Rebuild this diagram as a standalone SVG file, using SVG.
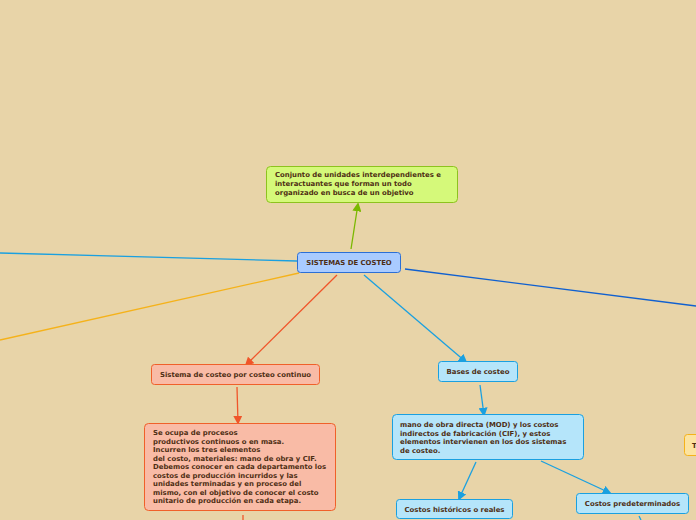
<svg xmlns="http://www.w3.org/2000/svg" width="696" height="520" viewBox="0 0 696 520">
<defs>
<style>
.t{font-family:"DejaVu Sans",Verdana,sans-serif;font-weight:bold;font-size:6.9px;fill:#4E2E14}
.c{text-anchor:middle}
.n{stroke-width:1}
.l{fill:none;stroke-width:1.3}
</style>
<marker id="ag" viewBox="0 0 10 10" refX="8" refY="5" markerWidth="7" markerHeight="7" orient="auto"><path d="M0,0L10,5L0,10z" fill="#7AB800"/></marker>
<marker id="ar" viewBox="0 0 10 10" refX="8" refY="5" markerWidth="7" markerHeight="7" orient="auto"><path d="M0,0L10,5L0,10z" fill="#F0552A"/></marker>
<marker id="ac" viewBox="0 0 10 10" refX="8" refY="5" markerWidth="7" markerHeight="7" orient="auto"><path d="M0,0L10,5L0,10z" fill="#1AA0E0"/></marker>
</defs>
<rect width="696" height="520" fill="#E8D4A8"/>
<g id="connectors">
<line class="l" x1="351" y1="249" x2="358" y2="204" stroke="#7AB800" marker-end="url(#ag)"/>
<line class="l" x1="297" y1="261" x2="0" y2="253" stroke="#1AA0E0"/>
<line class="l" x1="299" y1="273" x2="0" y2="340" stroke="#F5B21A"/>
<line class="l" x1="405" y1="269" x2="696" y2="306" stroke="#1060D0"/>
<line class="l" x1="337" y1="275" x2="246" y2="365" stroke="#F0552A" marker-end="url(#ar)"/>
<line class="l" x1="364" y1="275" x2="466" y2="362" stroke="#1AA0E0" marker-end="url(#ac)"/>
<line class="l" x1="480" y1="385" x2="484" y2="415" stroke="#1AA0E0" marker-end="url(#ac)"/>
<line class="l" x1="237" y1="387" x2="238" y2="423" stroke="#F0552A" marker-end="url(#ar)"/>
<line class="l" x1="476" y1="462" x2="459" y2="499" stroke="#1AA0E0" marker-end="url(#ac)"/>
<line class="l" x1="541" y1="461" x2="610" y2="493" stroke="#1AA0E0" marker-end="url(#ac)"/>
<line class="l" x1="243" y1="515" x2="243" y2="520" stroke="#F0552A"/>
<line class="l" x1="639" y1="516" x2="641" y2="520" stroke="#1AA0E0"/>
</g>
<g id="n-conjunto">
<rect class="n" x="266.5" y="166.5" width="191" height="36" rx="4" fill="#D5F97A" stroke="#8DC21F"/>
<text class="t" x="275" y="177">Conjunto de unidades interdependientes e</text>
<text class="t" x="275" y="186">interactuantes que forman un todo</text>
<text class="t" x="275" y="195">organizado en busca de un objetivo</text>
</g>
<g id="n-sistemas">
<rect class="n" x="297.5" y="252.5" width="103" height="20" rx="3" fill="#A9CBFF" stroke="#2B6FD6"/>
<text class="t c" x="349" y="265">SISTEMAS DE COSTEO</text>
</g>
<g id="n-continuo">
<rect class="n" x="151.5" y="364.5" width="168" height="20" rx="3" fill="#F9BBA6" stroke="#F0602A"/>
<text class="t c" x="235.5" y="377">Sistema de costeo por costeo continuo</text>
</g>
<g id="n-ocupa">
<rect class="n" x="144.5" y="423.5" width="191" height="87" rx="4" fill="#F9BBA6" stroke="#F0602A"/>
<text class="t" x="153" y="435">Se ocupa de procesos</text>
<text class="t" x="153" y="443.5">productivos continuos o en masa.</text>
<text class="t" x="153" y="452">Incurren los tres elementos</text>
<text class="t" x="153" y="460.5">del costo, materiales: mano de obra y CIF.</text>
<text class="t" x="153" y="469">Debemos conocer en cada departamento los</text>
<text class="t" x="153" y="477.5">costos de producción incurridos y las</text>
<text class="t" x="153" y="486">unidades terminadas y en proceso del</text>
<text class="t" x="153" y="494.5">mismo, con el objetivo de conocer el costo</text>
<text class="t" x="153" y="503">unitario de producción en cada etapa.</text>
</g>
<g id="n-bases">
<rect class="n" x="438.5" y="361.5" width="79" height="20" rx="3" fill="#B5E5FA" stroke="#1AA0E0"/>
<text class="t c" x="478" y="374">Bases de costeo</text>
</g>
<g id="n-mano">
<rect class="n" x="392.5" y="414.5" width="191" height="45" rx="4" fill="#B5E5FA" stroke="#1AA0E0"/>
<text class="t" x="400" y="427">mano de obra directa (MOD) y los costos</text>
<text class="t" x="400" y="435.5">indirectos de fabricación (CIF), y estos</text>
<text class="t" x="400" y="444">elementos intervienen en los dos sistemas</text>
<text class="t" x="400" y="452.5">de costeo.</text>
</g>
<g id="n-historicos">
<rect class="n" x="396.5" y="499.5" width="116" height="19" rx="3" fill="#B5E5FA" stroke="#1AA0E0"/>
<text class="t c" x="454.5" y="512">Costos históricos o reales</text>
</g>
<g id="n-predeterminados">
<rect class="n" x="576.5" y="493.5" width="112" height="20" rx="3" fill="#B5E5FA" stroke="#1AA0E0"/>
<text class="t c" x="632.5" y="506">Costos predeterminados</text>
</g>
<g id="n-t">
<rect class="n" x="684.5" y="434.5" width="30" height="21" rx="3" fill="#FCE3A0" stroke="#F5B21A"/>
<text class="t" x="692" y="447.5">T</text>
</g>
</svg>
